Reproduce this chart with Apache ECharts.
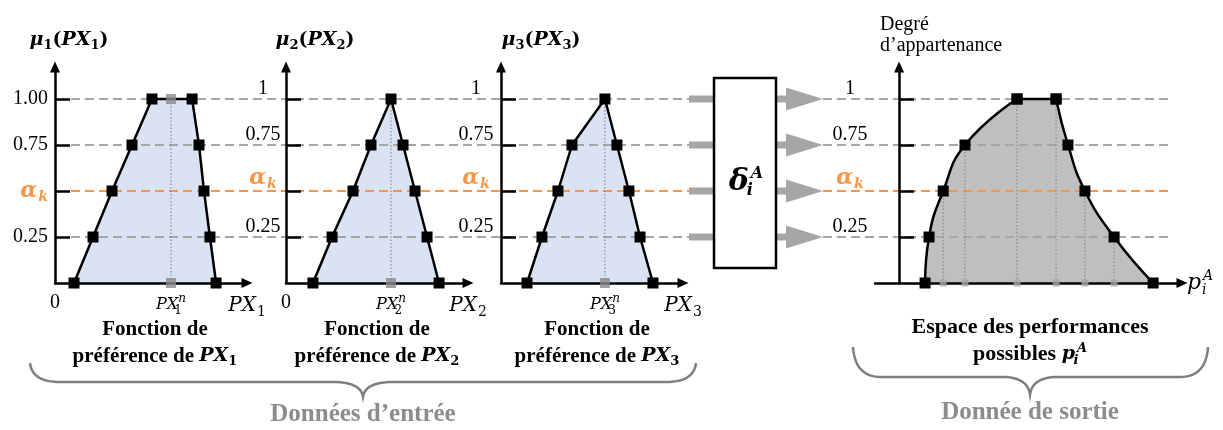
<!DOCTYPE html>
<html><head><meta charset="utf-8">
<script src="https://cdn.jsdelivr.net/npm/echarts@6/dist/echarts.min.js"></script>
<style>html,body{margin:0;padding:0;background:#fff}#c{width:1223px;height:430px}</style>
</head><body><div id="c"></div>
<script>
// ---------------- data ----------------
const levelLines = [0.25, 0.5, 0.75, 1];          // alpha-cut levels
const alphaLevel = 0.5;
const ALPHA = 'α_k';
const yTickLabels1 = ['0.25', ALPHA, '0.75', '1.00'];
const yTickLabels = ['0.25', ALPHA, '0.75', '1'];
const criteria = ['1', '2', '3'];                 // PX index

const pref1X = [9.9, 19.8, 29.7, 40.1, 50.5, 71.4, 75, 77.6, 80.7, 83.9];
const pref1Y = [0, 0.25, 0.5, 0.75, 1, 1, 0.75, 0.5, 0.25, 0];
const pref1Nominal = 60.4;
const pref1NominalMarks = [[60.4, 0], [60.4, 1]];

const pref2X = [14.8, 25.3, 36.8, 46.7, 57.7, 64.3, 70.9, 77.5, 84.1];
const pref2Y = [0, 0.25, 0.5, 0.75, 1, 0.75, 0.5, 0.25, 0];
const pref2Nominal = 57.7;
const pref2NominalMarks = [[57.7, 0]];

const pref3X = [14.3, 22.5, 31.3, 39, 57.1, 63.7, 70.3, 76.4, 83.5];
const pref3Y = [0, 0.25, 0.5, 0.75, 1, 0.75, 0.5, 0.25, 0];
const pref3Nominal = 57.1;
const pref3NominalMarks = [[57.1, 0]];

const perfX = [9.2, 10.6, 15.6, 23.3, 41.7, 55.5, 59.7, 65.7, 76, 89.8];
const perfY = [0, 0.25, 0.5, 0.75, 1, 1, 0.75, 0.5, 0.25, 0];
const perfProjected = [2, 3, 4, 5, 7, 8];         // points projected onto the axis

// ---------------- layout / style ----------------
const L = {
  top: 67, bottom: 147, yMax: 1.1739,
  g: [
    {left: 55, width: 192, min: 0, max: 100},
    {left: 286, width: 182, min: 0, max: 100},
    {left: 501, width: 182, min: 0, max: 100},
    {left: 875, width: 307, min: -8.5, max: 100}
  ],
  spans: [[71, 689], [823, 1173]],
  inX: [689, 714], outX: [776, 786, 823]
};
const SERIF = '"Liberation Serif", "Times New Roman", serif';
const MATH = '"DejaVu Serif", serif';
const ORANGE = '#f79646', DASH = '#a6a6a6', BLUE = '#dae3f3', OUTGRAY = '#bfbfbf', ARROW = '#a6a6a6', NOMGRAY = '#898989';

const prefCharts = [
  {x: pref1X, y: pref1Y, nominal: pref1Nominal, marks: pref1NominalMarks},
  {x: pref2X, y: pref2Y, nominal: pref2Nominal, marks: pref2NominalMarks},
  {x: pref3X, y: pref3Y, nominal: pref3Nominal, marks: pref3NominalMarks}
];
const pts = (xs, ys) => xs.map((x, i) => [x, ys[i]]);

const richY = {
  n: {fontFamily: SERIF, fontSize: 20, color: '#000'},
  a: {fontFamily: MATH, fontSize: 22, fontWeight: 'bold', fontStyle: 'italic', color: ORANGE},
  k: {fontFamily: MATH, fontSize: 14, fontWeight: 'bold', fontStyle: 'italic', color: ORANGE, padding: [12, 0, 0, 1]}
};
const richT = {
  m: {fontFamily: MATH, fontSize: 19, fontWeight: 'bold', fontStyle: 'italic', color: '#000'},
  p: {fontFamily: MATH, fontSize: 19, fontWeight: 'bold', color: '#000'},
  s: {fontFamily: MATH, fontSize: 13, fontWeight: 'bold', color: '#000', padding: [10, 0, 0, 0]}
};
const richX = {
  z: {fontFamily: SERIF, fontSize: 20, color: '#000'},
  pn: {fontFamily: MATH, fontSize: 16, fontStyle: 'italic', color: '#000'},
  sb: {fontFamily: MATH, fontSize: 12, color: '#000', padding: [12, 0, 0, 0], width: 0},
  sp: {fontFamily: MATH, fontSize: 12, fontStyle: 'italic', color: '#000', padding: [0, 0, 12, 0]},
  px: {fontFamily: MATH, fontSize: 20, fontStyle: 'italic', color: '#000'},
  ps: {fontFamily: MATH, fontSize: 14, color: '#000', padding: [12, 0, 0, 1]}
};
const richP = {
  p: {fontFamily: MATH, fontSize: 22, fontStyle: 'italic', color: '#000'},
  i: {fontFamily: MATH, fontSize: 14, fontStyle: 'italic', color: '#000', padding: [14, 0, 0, 1], width: 0},
  A: {fontFamily: MATH, fontSize: 14, fontStyle: 'italic', color: '#000', padding: [0, 0, 14, 1]}
};

const axisLineStyle = {show: true, onZero: true, symbol: ['none', 'triangle'], symbolSize: [10, 11], lineStyle: {color: '#000', width: 2.5}};

function yAxisFor(i, labels, labelOpts, name, padLeft) {
  return {
    gridIndex: i, type: 'value', min: 0, max: L.yMax, z: 5,
    axisLine: axisLineStyle,
    axisTick: {show: true, inside: true, length: 15, customValues: levelLines, lineStyle: {color: '#000', width: 2.5}},
    axisLabel: Object.assign({
      show: true, color: '#000', customValues: levelLines, rich: richY,
      formatter: v => { const t = labels[levelLines.indexOf(v)]; return t === ALPHA ? '{a|α}{k|k}' : '{n|' + t + '}'; }
    }, labelOpts),
    splitLine: {show: false},
    name: name, nameLocation: 'end', nameGap: 15,
    nameTextStyle: {color: '#000', align: 'center', padding: [0, 0, 0, padLeft], rich: richT}
  };
}
function xAxisFor(i, custom, ci) {
  const c = prefCharts[ci];
  return {
    gridIndex: i, type: 'value', min: L.g[i].min, max: L.g[i].max, z: 5,
    axisLine: axisLineStyle, axisTick: {show: false}, splitLine: {show: false},
    axisLabel: {
      show: true, color: '#000', customValues: custom, rich: richX, margin: 10,
      formatter: v => v === 0 ? '{z|0}' : (v === c.nominal ? '{pn|PX}{sb|' + criteria[ci] + '}{sp|n}' : '{px|PX}{ps|' + criteria[ci] + '}')
    }
  };
}

const grid = L.g.map(g => ({left: g.left, width: g.width, top: L.top, bottom: L.bottom}));
grid.push({left: 0, width: 1223, top: L.top, bottom: L.bottom});

const xAxis = [
  xAxisFor(0, [0, pref1Nominal, 100], 0),
  xAxisFor(1, [0, pref2Nominal, 100], 1),
  xAxisFor(2, [pref3Nominal, 100], 2),
  {gridIndex: 3, type: 'value', min: L.g[3].min, max: L.g[3].max, z: 5, axisLine: axisLineStyle,
   axisTick: {show: false}, axisLabel: {show: false}, splitLine: {show: false},
   name: '{p|p}{i|i}{A|A}', nameLocation: 'end', nameGap: 5,
   nameTextStyle: {align: 'left', verticalAlign: 'middle', rich: richP}},
  {gridIndex: 4, type: 'value', min: 0, max: 1223, show: false}
];
const yAxis = [
  yAxisFor(0, yTickLabels1, {margin: 7}, '{m|μ}{s|1}{p|(}{m|PX}{s|1}{p|)}', 28),
  yAxisFor(1, yTickLabels, {margin: 23, align: 'center', verticalAlign: 'bottom'}, '{m|μ}{s|2}{p|(}{m|PX}{s|2}{p|)}', 58),
  yAxisFor(2, yTickLabels, {margin: 25, align: 'center', verticalAlign: 'bottom'}, '{m|μ}{s|3}{p|(}{m|PX}{s|3}{p|)}', 80),
  yAxisFor(3, yTickLabels, {margin: 25, align: 'center', verticalAlign: 'bottom'}, '', 0),
  {gridIndex: 4, type: 'value', min: 0, max: L.yMax, show: false}
];

const series = [];
prefCharts.forEach((c, i) => {
  const d = pts(c.x, c.y);
  series.push({type: 'line', xAxisIndex: i, yAxisIndex: i, data: d, symbol: 'none', clip: false, silent: true,
    lineStyle: {width: 0}, areaStyle: {color: BLUE, opacity: 1}, z: 1});
  series.push({type: 'line', xAxisIndex: i, yAxisIndex: i, data: [[c.nominal, 0], [c.nominal, 1]], symbol: 'none', clip: false,
    lineStyle: {color: '#7f7f7f', width: 1, type: [1.5, 2]}, z: 3});
  series.push({type: 'line', xAxisIndex: i, yAxisIndex: i, data: d, symbol: 'rect', symbolSize: 11, clip: false,
    itemStyle: {color: '#000'}, lineStyle: {color: '#000', width: 2.5}, z: 6});
  series.push({type: 'scatter', xAxisIndex: i, yAxisIndex: i, data: c.marks, symbol: 'rect', symbolSize: 10, clip: false,
    itemStyle: {color: NOMGRAY}, z: 7});
});

const perfPts = pts(perfX, perfY);
[[0, 5, 0.5], [4, 6, 0], [5, 10, 0.5]].forEach(([a, b, sm]) => {
  const d = perfPts.slice(a, b);
  series.push({type: 'line', xAxisIndex: 3, yAxisIndex: 3, data: d, smooth: sm, symbol: 'none', clip: false, silent: true,
    lineStyle: {width: 0}, areaStyle: {color: OUTGRAY, opacity: 1}, z: 1});
  series.push({type: 'line', xAxisIndex: 3, yAxisIndex: 3, data: d, smooth: sm, symbol: 'rect', symbolSize: 11, clip: false,
    itemStyle: {color: '#000'}, lineStyle: {color: '#000', width: 2.5}, z: 6});
});
series.push({type: 'custom', xAxisIndex: 3, yAxisIndex: 3, data: perfProjected.map(i => perfPts[i]), z: 3, clip: false,
  renderItem: (p, api) => {
    const a = api.coord([api.value(0), api.value(1)]), b = api.coord([api.value(0), 0]);
    return {type: 'line', shape: {x1: a[0], y1: a[1], x2: b[0], y2: b[1]}, style: {stroke: '#7f7f7f', lineWidth: 1, lineDash: [1.5, 2]}};
  }});
series.push({type: 'scatter', xAxisIndex: 3, yAxisIndex: 3, data: perfProjected.map(i => [perfX[i], 0]), symbol: 'rect',
  symbolSize: 7, clip: false, itemStyle: {color: '#a6a6a6'}, z: 7});

// alpha-cut level lines across the figure
series.push({type: 'custom', xAxisIndex: 4, yAxisIndex: 4, data: levelLines.map(v => [0, v]), z: 2, clip: false,
  renderItem: (p, api) => {
    const v = api.value(1);
    const y = api.coord([0, v])[1];
    return {type: 'group', children: L.spans.map(s => ({
      type: 'line', shape: {x1: api.coord([s[0], v])[0], y1: y, x2: api.coord([s[1], v])[0], y2: y},
      style: {stroke: v === alphaLevel ? ORANGE : DASH, lineWidth: 2, lineDash: [9, 5]}
    }))};
  }});
// transfer arrows in / out of the delta box
series.push({type: 'custom', xAxisIndex: 4, yAxisIndex: 4, data: levelLines.map(v => [0, v]), z: 3, clip: false,
  renderItem: (p, api) => {
    const y = api.coord([0, api.value(1)])[1];
    const h = 7, H = 23;
    return {type: 'group', children: [
      {type: 'rect', shape: {x: L.inX[0], y: y - h / 2, width: L.inX[1] - L.inX[0], height: h}, style: {fill: ARROW}},
      {type: 'polygon', shape: {points: [[L.outX[0], y - h / 2], [L.outX[1], y - h / 2], [L.outX[1], y - H / 2], [L.outX[2], y],
        [L.outX[1], y + H / 2], [L.outX[1], y + h / 2], [L.outX[0], y + h / 2]]}, style: {fill: ARROW}}
    ]};
  }});

// braces
function quad(p0, c, p1, n) {
  const out = [];
  for (let t = 1; t <= n; t++) {
    const s = t / n;
    out.push([(1 - s) * (1 - s) * p0[0] + 2 * (1 - s) * s * c[0] + s * s * p1[0],
              (1 - s) * (1 - s) * p0[1] + 2 * (1 - s) * s * c[1] + s * s * p1[1]]);
  }
  return out;
}
function brace(x1, x2, xm, yEnd, yLine, yTip, r) {
  const p = [[x1, yEnd]];
  p.push(...quad([x1, yEnd], [x1 + 2, yLine], [x1 + r, yLine], 14));
  p.push([xm - r, yLine]);
  p.push(...quad([xm - r, yLine], [xm - 2, yLine], [xm, yTip], 14));
  p.push(...quad([xm, yTip], [xm + 2, yLine], [xm + r, yLine], 14));
  p.push([x2 - r, yLine]);
  p.push(...quad([x2 - r, yLine], [x2 - 2, yLine], [x2, yEnd], 14));
  return p;
}

const capRich = {
  m: {fontFamily: MATH, fontSize: 19, fontWeight: 'bold', fontStyle: 'italic', color: '#000', lineHeight: 27},
  s: {fontFamily: MATH, fontSize: 13, fontWeight: 'bold', color: '#000', padding: [10, 0, 0, 0], lineHeight: 27},
  i: {fontFamily: MATH, fontSize: 13, fontWeight: 'bold', fontStyle: 'italic', color: '#000', padding: [12, 0, 0, 1], width: 0},
  A: {fontFamily: MATH, fontSize: 13, fontWeight: 'bold', fontStyle: 'italic', color: '#000', padding: [0, 0, 12, 1]}
};
function caption(x, y, text, size) {
  return {type: 'text', x: x, y: y, z: 20, style: {text: text, fontFamily: SERIF, fontSize: size, fontWeight: 'bold', fill: '#000',
    align: 'center', verticalAlign: 'middle', lineHeight: 27, rich: capRich}};
}

const graphic = [
  {type: 'rect', z: 10, shape: {x: 714, y: 78, width: 62, height: 190}, style: {fill: '#fff', stroke: '#000', lineWidth: 2.5}},
  {type: 'text', z: 11, x: 746, y: 182, style: {text: '{d|δ}{i|i}{A|A}', align: 'center', verticalAlign: 'middle', rich: {
    d: {fontFamily: MATH, fontSize: 30, fontWeight: 'bold', fontStyle: 'italic', color: '#000'},
    i: {fontFamily: MATH, fontSize: 16, fontWeight: 'bold', fontStyle: 'italic', color: '#000', padding: [17, 0, 0, 1], width: 0},
    A: {fontFamily: MATH, fontSize: 16, fontWeight: 'bold', fontStyle: 'italic', color: '#000', padding: [0, 0, 17, 1]}
  }}},
  caption(155, 343, 'Fonction de\npréférence de {m|PX}{s|1}', 21),
  caption(377, 343, 'Fonction de\npréférence de {m|PX}{s|2}', 21),
  caption(597, 343, 'Fonction de\npréférence de {m|PX}{s|3}', 21),
  caption(1030, 341, 'Espace des performances\npossibles {m|p}{i|i}{A|A}', 22),
  {type: 'polyline', z: 5, shape: {points: brace(30, 696, 363, 363, 382, 397, 30)}, style: {fill: null, stroke: '#7f7f7f', lineWidth: 2.5}},
  {type: 'polyline', z: 5, shape: {points: brace(853, 1208, 1030, 347, 377, 395, 28)}, style: {fill: null, stroke: '#7f7f7f', lineWidth: 2.5}},
  {type: 'text', z: 20, x: 363, y: 415, style: {text: 'Données d’entrée', fontFamily: SERIF, fontSize: 25, fontWeight: 'bold',
    fill: '#8c8c8c', align: 'center', verticalAlign: 'middle'}},
  {type: 'text', z: 20, x: 1030, y: 413, style: {text: 'Donnée de sortie', fontFamily: SERIF, fontSize: 25, fontWeight: 'bold',
    fill: '#8c8c8c', align: 'center', verticalAlign: 'middle'}},
  {type: 'text', z: 20, x: 880, y: 14, style: {text: 'Degré\nd’appartenance', fontFamily: SERIF, fontSize: 20, lineHeight: 21,
    fill: '#000', align: 'left', verticalAlign: 'top'}}
];

const chart = echarts.init(document.getElementById('c'));
chart.setOption({
  animation: false,
  backgroundColor: '#fff',
  textStyle: {fontFamily: SERIF},
  grid: grid, xAxis: xAxis, yAxis: yAxis, series: series, graphic: graphic
});
</script>
</body></html>
